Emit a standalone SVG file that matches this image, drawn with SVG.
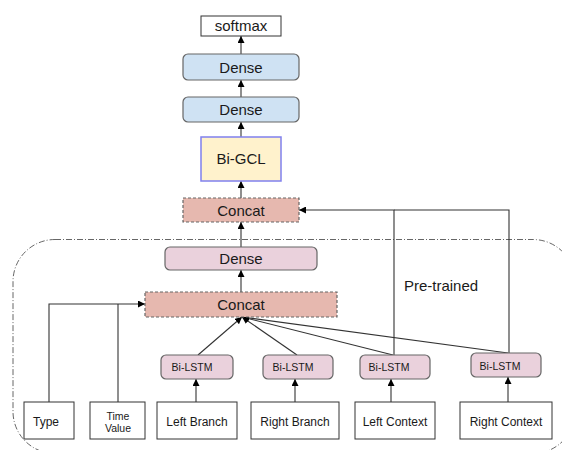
<svg xmlns="http://www.w3.org/2000/svg" width="562" height="450" viewBox="0 0 562 450">
<defs>
<marker id="arr" viewBox="0 0 10 10" refX="10" refY="5" markerWidth="7" markerHeight="7" orient="auto-start-reverse" markerUnits="userSpaceOnUse">
<path d="M0,0 L10,5 L0,10 z" fill="#000"/>
</marker>
<style>
text{font-family:"Liberation Sans",Arial,sans-serif;fill:#1a1a1a;text-anchor:middle}
.big{font-size:15px}
.mid{font-size:12px}
.sm{font-size:10.5px}
.white{fill:#fff;stroke:#333;stroke-width:1}
.blue{fill:#cfe2f3;stroke:#666;stroke-width:1.2}
.pink{fill:#ead1dc;stroke:#666;stroke-width:1.2}
.gcl{fill:#fff2cc;stroke:#8080ee;stroke-width:1.5}
.concat{fill:#e6b8af;stroke:#666;stroke-width:1.2;stroke-dasharray:3,2}
.edge{fill:none;stroke:#333;stroke-width:1.1}
.arr{marker-end:url(#arr)}
.frame{fill:none;stroke:#555;stroke-width:0.9;stroke-dasharray:6,2,1,2}
</style>
</defs>
<rect class="frame" x="13" y="239.5" width="562" height="214" rx="42"/>
<text class="big" x="441" y="291">Pre-trained</text>
<g id="connectors">
<line class="edge arr" x1="241" y1="54" x2="241" y2="36"/>
<line class="edge arr" x1="241" y1="97" x2="241" y2="80"/>
<line class="edge arr" x1="241" y1="137" x2="241" y2="122"/>
<line class="edge arr" x1="241" y1="198" x2="241" y2="181"/>
<line class="edge arr" x1="241" y1="247" x2="241" y2="222"/>
<line class="edge arr" x1="241" y1="292" x2="241" y2="270"/>
<polyline class="edge arr" points="49,402 49,304 145,304"/>
<line class="edge" x1="118" y1="402" x2="118" y2="304"/>
<line class="edge arr" x1="198" y1="355" x2="242" y2="317"/>
<line class="edge arr" x1="297" y1="355" x2="242" y2="317"/>
<line class="edge arr" x1="393" y1="355" x2="242" y2="317"/>
<line class="edge arr" x1="508" y1="353" x2="242" y2="317"/>
<polyline class="edge arr" points="394,355 394,210 299,210"/>
<polyline class="edge" points="509,353 509,210 394,210"/>
<line class="edge arr" x1="196" y1="402" x2="196" y2="379"/>
<line class="edge arr" x1="295" y1="402" x2="295" y2="379"/>
<line class="edge arr" x1="391" y1="402" x2="391" y2="379"/>
<line class="edge arr" x1="508" y1="402" x2="508" y2="377"/>
</g>
<g id="softmax"><rect class="white" x="201" y="16" width="80" height="20"/><text class="big" x="241" y="31">softmax</text></g>
<g id="dense-top"><rect class="blue" x="183" y="54" width="116" height="26" rx="5"/><text class="big" x="241" y="72.5">Dense</text></g>
<g id="dense-2"><rect class="blue" x="183" y="97" width="116" height="25" rx="5"/><text class="big" x="241" y="115">Dense</text></g>
<g id="bigcl"><rect class="gcl" x="201" y="137" width="80" height="44"/><text class="big" x="241" y="164">Bi-GCL</text></g>
<g id="concat-top"><rect class="concat" x="183" y="198" width="116" height="24"/><text class="big" x="241" y="215.5">Concat</text></g>
<g id="dense-inner"><rect class="pink" x="165" y="247" width="152" height="23" rx="5"/><text class="big" x="241" y="264">Dense</text></g>
<g id="concat-inner"><rect class="concat" x="145" y="292" width="192" height="25"/><text class="big" x="241" y="309.5">Concat</text></g>
<g id="bilstm1"><rect class="pink" x="161" y="355" width="72" height="24" rx="5"/><text class="sm" x="192" y="371">Bi-LSTM</text></g>
<g id="bilstm2"><rect class="pink" x="263" y="355" width="70" height="24" rx="5"/><text class="sm" x="293" y="371">Bi-LSTM</text></g>
<g id="bilstm3"><rect class="pink" x="360" y="355" width="70" height="24" rx="5"/><text class="sm" x="389" y="371">Bi-LSTM</text></g>
<g id="bilstm4"><rect class="pink" x="471" y="353" width="70" height="24" rx="5"/><text class="sm" x="500" y="369.5">Bi-LSTM</text></g>
<g id="type"><rect class="white" x="24" y="402" width="50" height="37"/><text class="mid" x="46" y="425.5">Type</text></g>
<g id="timevalue"><rect class="white" x="90" y="402" width="55" height="37"/><text class="sm" x="118" y="419.5">Time</text><text class="sm" x="118" y="432">Value</text></g>
<g id="leftbranch"><rect class="white" x="157" y="402" width="80" height="37"/><text class="mid" x="197" y="425.5">Left Branch</text></g>
<g id="rightbranch"><rect class="white" x="251" y="402" width="88" height="37"/><text class="mid" x="295" y="425.5">Right Branch</text></g>
<g id="leftcontext"><rect class="white" x="355" y="402" width="80" height="37"/><text class="mid" x="395" y="425.5">Left Context</text></g>
<g id="rightcontext"><rect class="white" x="460" y="402" width="92" height="37"/><text class="mid" x="506" y="425.5">Right Context</text></g>
</svg>
